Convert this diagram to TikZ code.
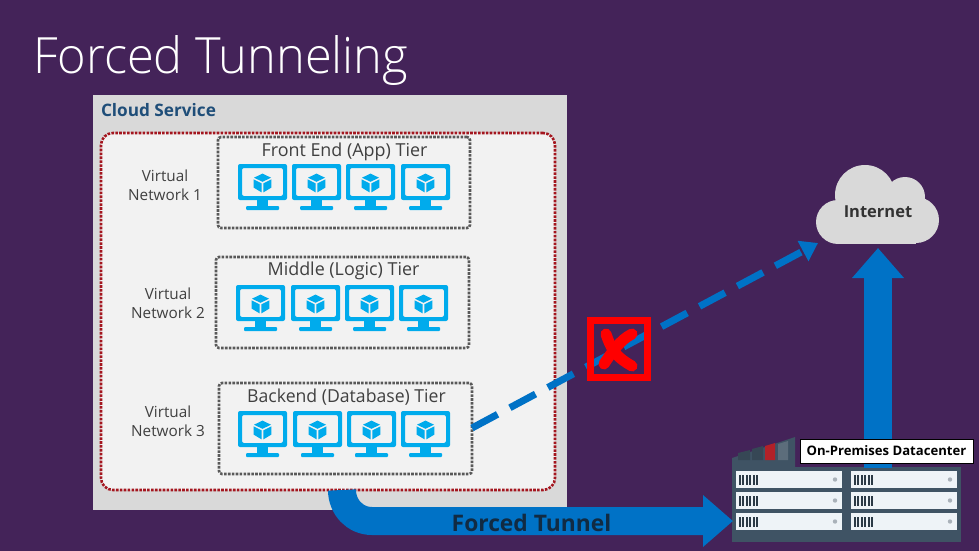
\documentclass[tikz,border=0pt]{standalone}
\usepackage{fontspec}
\setmainfont{Open Sans}
\newfontfamily\lightf{Open Sans Light}
\usetikzlibrary{arrows.meta,calc,fit}
\definecolor{bgp}{HTML}{442359}
\definecolor{azure}{HTML}{0072C6}
\definecolor{sky}{HTML}{00ABEC}
\definecolor{outerg}{HTML}{D9D9D9}
\definecolor{innerg}{HTML}{F2F2F2}
\definecolor{dred}{HTML}{A4161F}
\definecolor{dotg}{HTML}{595959}
\definecolor{txt}{HTML}{404040}
\definecolor{navy}{HTML}{1F4E79}
\definecolor{srv}{HTML}{3F5364}
\definecolor{slot}{HTML}{EEF3F7}
\tikzset{
  x=1pt,y=-1pt,
  every node/.style={outer sep=0pt},
  tierbox/.style={draw=dotg,line width=2.6pt,dash pattern=on 2.6pt off 1.3pt,rounded corners=3pt,inner sep=0},
  tiertxt/.style={font=\fontsize{17.9}{19}\selectfont,text=txt,inner sep=0},
  vnet/.style={font=\fontsize{15.3}{19}\selectfont,text=txt,align=center,inner sep=0},
  bigarrow/.style={line width=28pt,draw=azure},
  monitor/.pic={
    \fill[sky,rounded corners=2pt,even odd rule] (0,0) rectangle (49,36) (4,4) rectangle (45,32);
    \fill[sky] (19,36) rectangle (30,43);
    \fill[sky,rounded corners=1pt] (8,42) rectangle (41,46);
    \fill[sky] (24.5,9.6) -- (33,13.7) -- (24.5,17.8) -- (16,13.7) -- cycle;
    \fill[sky] (15.6,15.4) -- (23.6,19.4) -- (23.6,28.4) -- (15.6,23.6) -- cycle;
    \fill[sky] (33.4,15.4) -- (25.4,19.4) -- (25.4,28.4) -- (33.4,23.6) -- cycle;
  },
  slotpic/.pic={
    \fill[slot] (0,0) rectangle (106,17);
    \foreach \k in {0,3.4,...,17.1} \fill[srv!70!black] (3+\k,3.5) rectangle ++(2,10);
    \fill[srv!45!white] (99,8.5) circle (2.2);
  }
}
\begin{document}
\begin{tikzpicture}
\useasboundingbox (0,0) rectangle (979,551);
\fill[bgp] (0,0) rectangle (979,551);
\node[font=\lightf\fontsize{50}{54}\selectfont,text=white,inner sep=0,anchor=base west,xscale=.975] (title) at (33,74) {Forced Tunneling};

\node[fill=outerg,draw=none,minimum width=474pt,minimum height=415pt,anchor=north west,inner sep=0] (cs) at (93,95) {};
\node[font=\bfseries\fontsize{17.2}{18}\selectfont,text=navy,inner sep=0,anchor=base west] (cstxt) at (101,116) {Cloud Service};
\node[fill=innerg,draw=dred,line width=2.6pt,dash pattern=on 2.6pt off 1.3pt,rounded corners=12pt,minimum width=454pt,minimum height=357pt,anchor=north west,inner sep=0] (inner) at (101,133) {};

% tiers
\node[tierbox,minimum width=252pt,minimum height=91pt,anchor=north west] (t1) at (218,137) {};
\node[tierbox,minimum width=253pt,minimum height=91pt,anchor=north west] (t2) at (216,257) {};
\node[tierbox,minimum width=253pt,minimum height=91pt,anchor=north west] (t3) at (219,383) {};
\node[tiertxt] (t1t) at (344.5,151.5) {Front End (App) Tier};
\node[tiertxt] (t2t) at (343.5,271) {Middle (Logic) Tier};
\node[tiertxt,xscale=.985] (t3t) at (346.5,397) {Backend (Database) Tier};
\foreach \mx in {238,292,346,401} \pic at (\mx,164) {monitor};
\foreach \mx in {236,291,345,399} \pic at (\mx,285) {monitor};
\foreach \mx in {238,293,347,401} \pic at (\mx,411) {monitor};
\node[vnet] (v1) at (165,185) {Virtual\\Network 1};
\node[vnet] (v2) at (168,303) {Virtual\\Network 2};
\node[vnet] (v3) at (168,421) {Virtual\\Network 3};

% cloud
\fill[outerg] (865,195) circle (30);
\fill[outerg] (838,222) circle (22);
\fill[outerg] (916,220) circle (23);
\fill[outerg] (905,197) circle (20);
\fill[outerg] (838,205) rectangle (916,244);
\node[font=\bfseries\fontsize{16.5}{18}\selectfont,text=black!80,inner sep=0] (net) at (878,211.5) {Internet};
\coordinate (netin) at (818,243);
\coordinate (netbot) at (878,248);

% datacenter
\fill[srv] (732,467) -- (732,458) -- (795,437) -- (795,467) -- cycle;
\foreach \a/\b/\c/\t in {738/750/srv!85!black/453,752/763/srv!85!black/449,765/775/{red!60!srv}/446,778/788/srv!85!white/444}
  \fill[\c] (\a,460) -- (\a,\t) -- (\b,\t-3) -- (\b,460) -- cycle;
\node[fill=srv,minimum width=229pt,minimum height=75pt,anchor=north west,inner sep=0] (dc) at (732,467) {};
\foreach \sy in {471,492,513}{
  \pic at (736,\sy) {slotpic};
  \pic at (851,\sy) {slotpic};
}
\coordinate (upstart) at (878,468);
\draw[bigarrow,-{Triangle[width=50pt,length=30pt]}] (upstart) -- (netbot);
\node[fill=white,draw=black,line width=.6pt,minimum width=173pt,minimum height=24pt,inner sep=0,font=\bfseries\fontsize{13.1}{14}\selectfont,text=black] (dcl) at (886.5,451) {On-Premises Datacenter};

% forced tunnel
\coordinate (ftstart) at (342,490);
\coordinate (fttip) at (733,521);
\draw[bigarrow,-{Triangle[width=50pt,length=30pt]}] (ftstart) .. controls (342,507) and (355,521) .. (372,521) -- (fttip);
\node[font=\bfseries\fontsize{22.8}{24}\selectfont,text=navy!55!black,inner sep=0] (ftl) at (531.5,523) {Forced Tunnel};

% blocked link
\coordinate (t3out) at (472,428);
\draw[azure,line width=7pt,dash pattern=on 29pt off 14pt,-{Triangle[width=22pt,length=17pt]}] (t3out) -- (netin);
\node[draw=red,line width=7pt,minimum width=57pt,minimum height=57pt,inner sep=0] (blk) at (619,349) {};
\draw[red,line width=11pt,line cap=round] (606,334) .. controls (612,352) and (618,358) .. (632,366);
\draw[red,line width=11pt,line cap=round] (632,334) .. controls (620,340) and (612,352) .. (604,364);
\end{tikzpicture}
\end{document}
